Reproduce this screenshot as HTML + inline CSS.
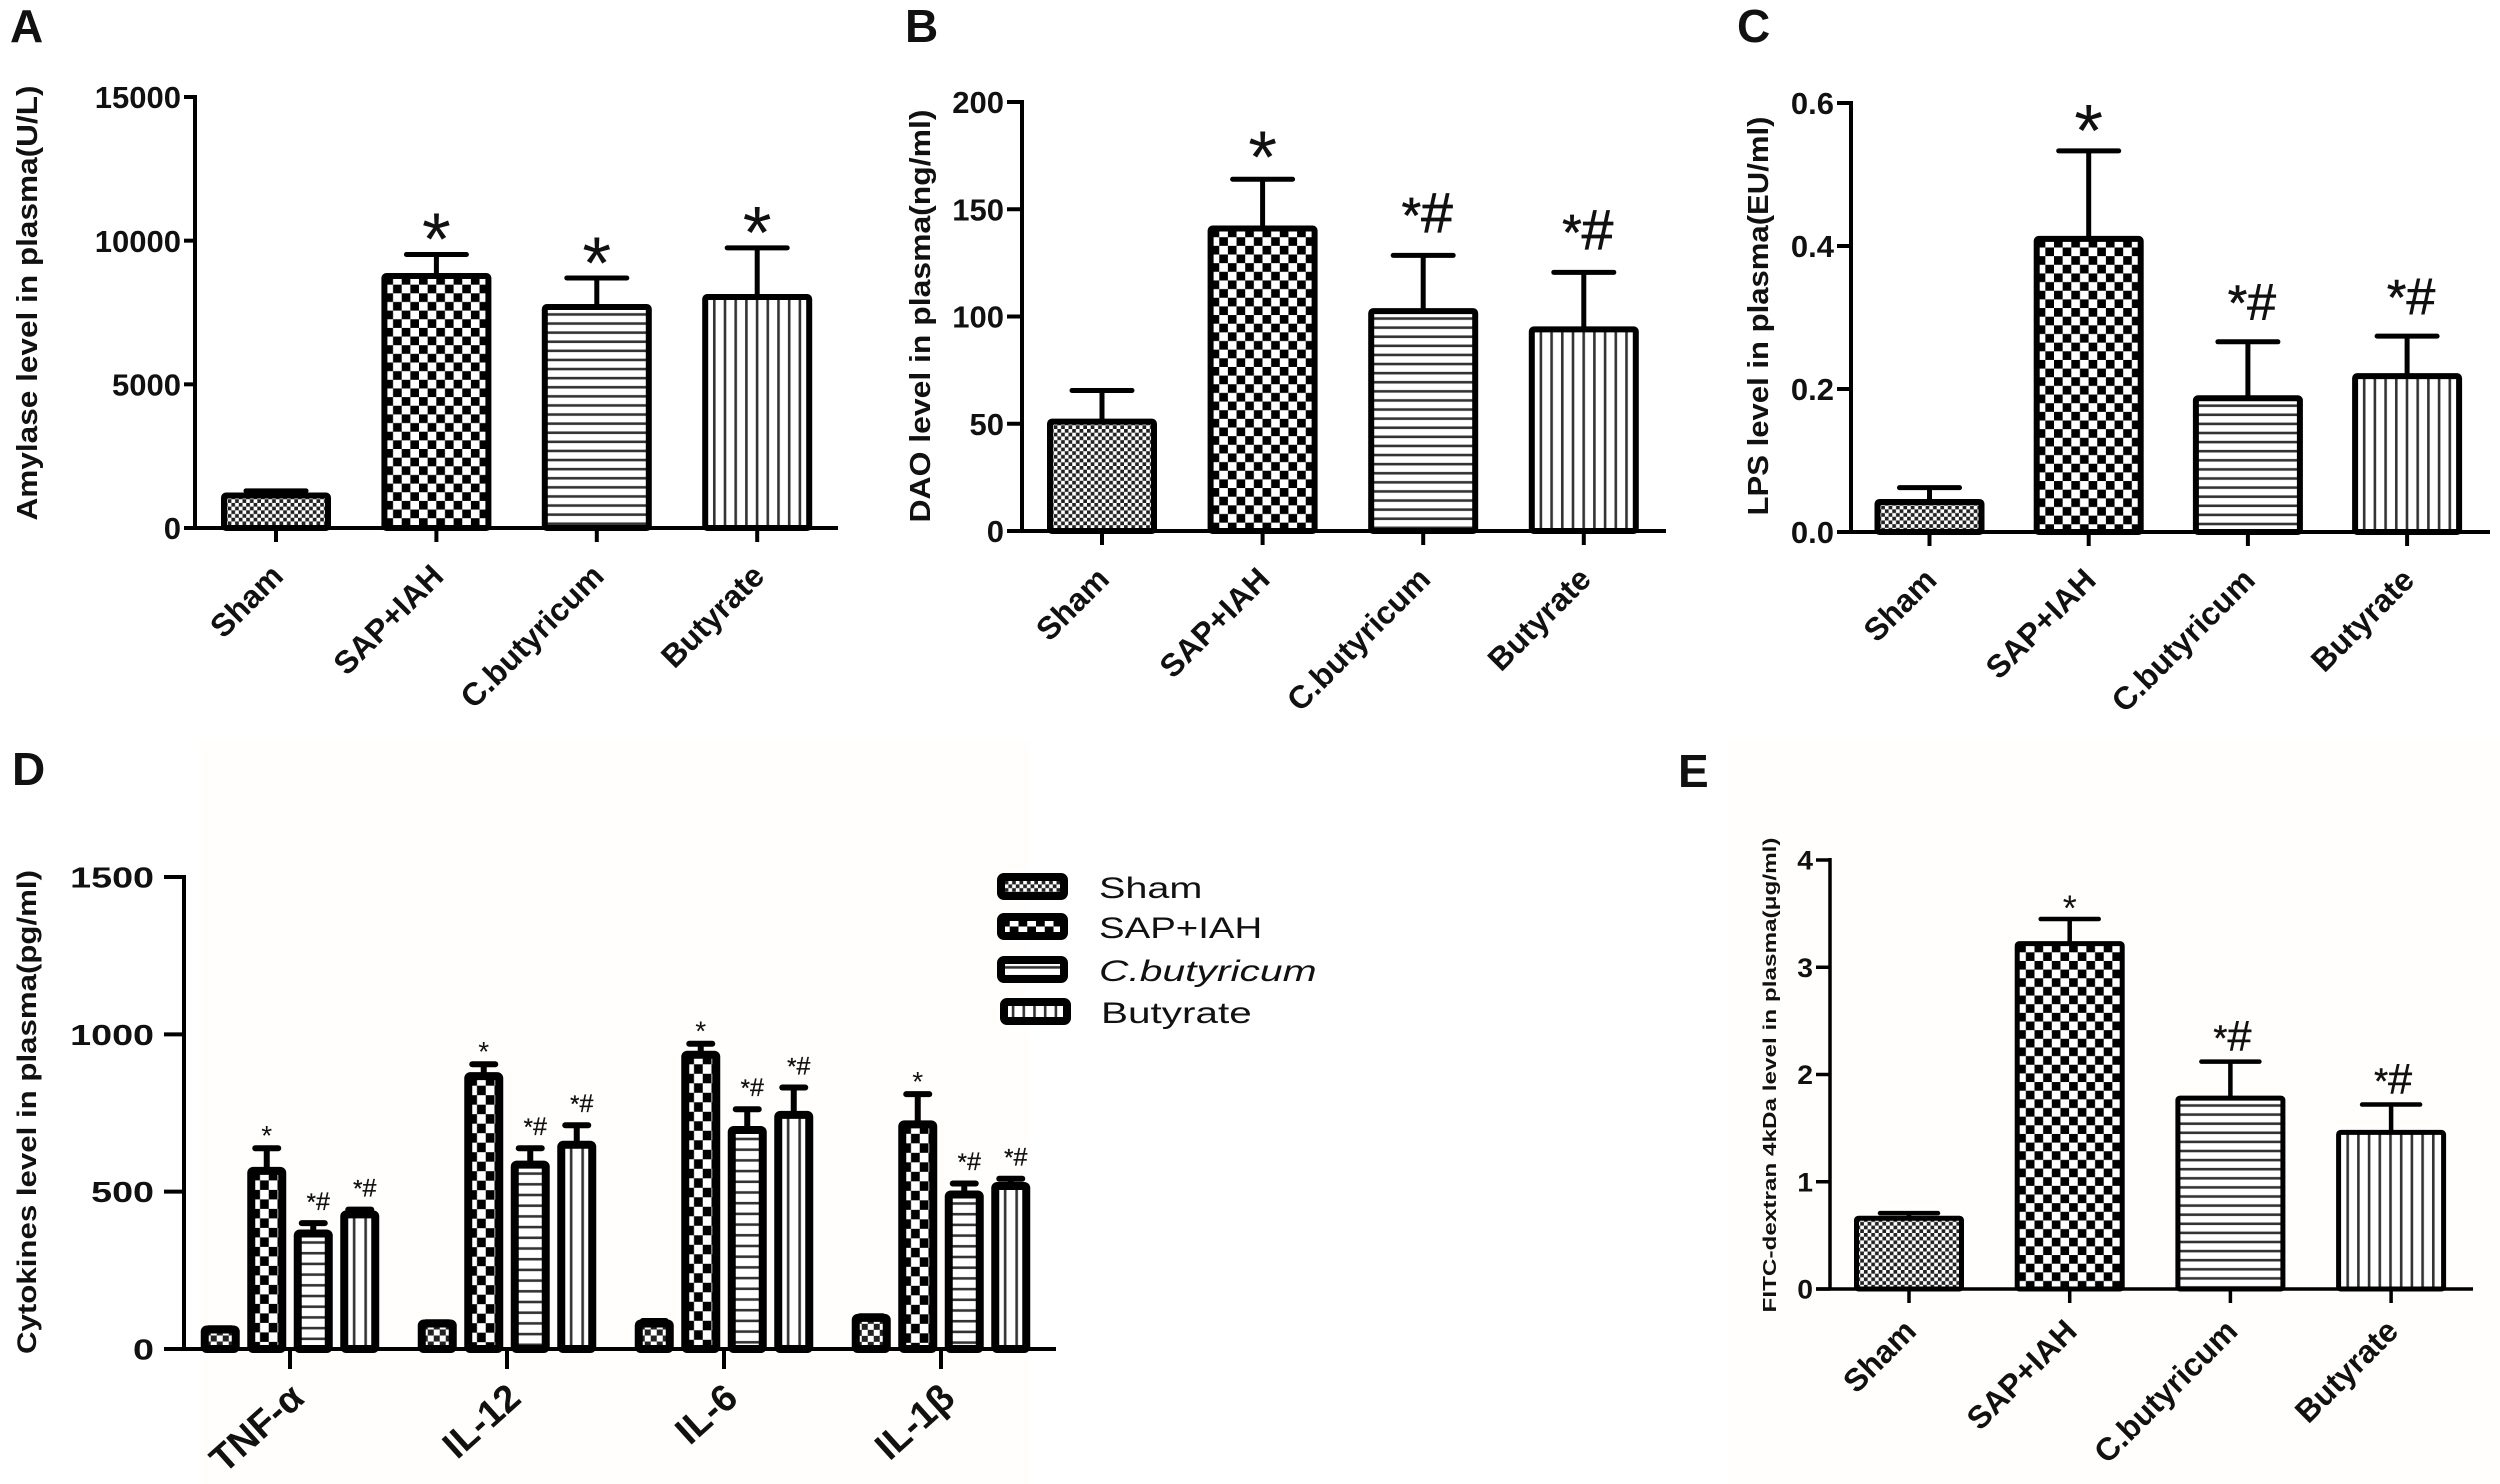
<!DOCTYPE html>
<html lang="en">
<head>
<meta charset="utf-8">
<title>Plasma markers bar charts</title>
<style>
html,body{margin:0;padding:0;background:#fff}
svg{display:block}
text{font-family:"Liberation Sans",sans-serif;fill:#111}
</style>
</head>
<body>
<svg id="figure" xmlns="http://www.w3.org/2000/svg" width="2500" height="1484" viewBox="0 0 2500 1484">
  <rect width="2500" height="1484" fill="#fff"/>
  <rect x="200" y="740" width="830" height="744" fill="#fffefc"/>
  <rect x="1727" y="740" width="773" height="744" fill="#fffefc"/>
  <defs id="defs"></defs>
  <g id="plots"></g>
</svg>
<script>
const categories = ['Sham', 'SAP+IAH', 'C.butyricum', 'Butyrate'];
const groupsD = ['TNF-α', 'IL-12', 'IL-6', 'IL-1β'];

const valuesA = [1130, 8770, 7690, 8040];
const errorsA = [160, 750, 1010, 1710];
const marksA = ['', '*', '*', '*'];
const tickLabelsA = ['0', '5000', '10000', '15000'];

const valuesB = [51, 141, 102.5, 94];
const errorsB = [14.5, 23, 26, 26.6];
const marksB = ['', '*', '*#', '*#'];
const tickLabelsB = ['0', '50', '100', '150', '200'];

const valuesC = [0.042, 0.41, 0.187, 0.218];
const errorsC = [0.02, 0.123, 0.079, 0.056];
const marksC = ['', '*', '*#', '*#'];
const tickLabelsC = ['0.0', '0.2', '0.4', '0.6'];

const valuesE = [0.66, 3.22, 1.78, 1.46];
const errorsE = [0.047, 0.23, 0.34, 0.26];
const marksE = ['', '*', '*#', '*#'];
const tickLabelsE = ['0', '1', '2', '3', '4'];

const shamD = [62, 81, 81, 99];
const shamErrD = [4, 4, 8, 5];
const sapD = [566, 867, 935, 714];
const sapErrD = [72, 38, 35, 96];
const cbD = [367, 586, 696, 491];
const cbErrD = [33, 52, 66, 35];
const butD = [428, 649, 744, 518];
const butErrD = [15, 62, 87, 23];
const marksD = ['', '*', '*#', '*#'];
const tickLabelsD = ['0', '500', '1000', '1500'];
const legendLabels = ['Sham', 'SAP+IAH', 'C.butyricum', 'Butyrate'];

const NS = 'http://www.w3.org/2000/svg';
const plots = document.getElementById('plots');
const defs = document.getElementById('defs');
let patternCount = 0;

function make(tag, attrs, parent) {
  const node = document.createElementNS(NS, tag);
  for (const key in attrs) node.setAttribute(key, attrs[key]);
  (parent || plots).appendChild(node);
  return node;
}

function makePattern(kind, x, y, dense) {
  const id = 'hatch' + (patternCount++);
  let w, h;
  if (kind === 0) { w = dense ? 12 : 7.4; h = dense ? 12 : 7.4; }
  else if (kind === 1) { w = dense ? 17.5 : 17.3; h = dense ? 19 : 17.3; }
  else if (kind === 2) { w = 10; h = dense ? 10.7 : 9.1; }
  else { w = dense ? 11.5 : 10.7; h = 10; }
  const p = make('pattern', {id: id, patternUnits: 'userSpaceOnUse', x: x, y: y, width: w, height: h}, defs);
  make('rect', {width: w, height: h, fill: '#fff'}, p);
  if (kind === 0 || kind === 1) {
    make('rect', {width: w / 2, height: h / 2, fill: kind === 0 ? '#222' : '#000'}, p);
    make('rect', {x: w / 2, y: h / 2, width: w / 2, height: h / 2, fill: kind === 0 ? '#222' : '#000'}, p);
  } else if (kind === 2) {
    make('rect', {y: h - 3, width: w, height: 2.6, fill: '#333'}, p);
  } else {
    make('rect', {x: w - 2.9, width: 2.6, height: h, fill: '#333'}, p);
  }
  return 'url(#' + id + ')';
}

function drawBar(cfg, g, cx, value, err, kind, dense) {
  const yOf = function (v) { return cfg.y0 - v / cfg.max * (cfg.y0 - cfg.top); };
  const top = yOf(value);
  const capY = yOf(value + err);
  const half = cfg.barW / 2 - cfg.stroke / 2;

  const stem = make('line', {x1: cx, x2: cx, y1: top, y2: capY, stroke: '#000', 'stroke-width': cfg.stem}, g);
  
  

  const cap = make('line', {x1: cx - cfg.capW / 2, x2: cx + cfg.capW / 2, y1: capY, y2: capY, stroke: '#000', 'stroke-width': cfg.stem, 'stroke-linecap': 'round'}, g);
  
  

  const fill = makePattern(kind, cx - half, top, dense);
  const bar = make('rect', {x: cx - half, y: top, width: half * 2, height: cfg.y0 - top, rx: 2, fill: fill, stroke: '#000', 'stroke-width': cfg.stroke}, g);
  
  
  return capY;
}

function drawMark(cfg, g, cx, capY, mark) {
  if (!mark) return;
  const t = make('text', {'text-anchor': 'middle'}, g);
  
  
  if (mark === '*') {
    t.setAttribute('x', cx);
    t.setAttribute('y', capY - cfg.starGap + 0.49 * cfg.starSize);
    t.setAttribute('font-size', cfg.starSize);
    t.textContent = '*';
  } else {
    t.setAttribute('x', cx + cfg.markShift);
    t.setAttribute('y', capY - cfg.hashGap + 0.35 * cfg.hashSize);
    t.setAttribute('font-size', cfg.hashSize);
    t.setAttribute('stroke', '#111');
    t.setAttribute('stroke-width', cfg.hashBold);
    const s = make('tspan', {'font-size': cfg.smallStar}, t);
    s.textContent = '*';
    const h = make('tspan', {}, t);
    h.textContent = '#';
  }
}

function drawAxes(cfg, g, labels, tickLabels) {
  const yOf = function (v) { return cfg.y0 - v / cfg.max * (cfg.y0 - cfg.top); };
  const yAxis = make('line', {x1: cfg.axisX, x2: cfg.axisX, y1: cfg.top - 2, y2: cfg.y0, stroke: '#000', 'stroke-width': cfg.axisW}, g);
  
  

  const xAxis = make('line', {x1: cfg.tickLeft, x2: cfg.xEnd, y1: cfg.y0, y2: cfg.y0, stroke: '#000', 'stroke-width': cfg.axisW}, g);
  
  

  tickLabels.forEach(function (label) {
    const y = yOf(parseFloat(label));
    const tick = make('line', {x1: cfg.tickLeft, x2: cfg.axisX, y1: y, y2: y, stroke: '#000', 'stroke-width': cfg.axisW}, g);
    
    
    const t = make('text', {'text-anchor': 'end', 'font-size': cfg.tickFont, 'font-weight': 'bold', transform: 'translate(' + (cfg.tickLeft - cfg.tickGap) + ',' + (y + cfg.tickFont * 0.36) + ') scale(' + cfg.tickSx + ',1)'}, g);
    
    
    t.textContent = label;
  });

  labels.forEach(function (label, i) {
    const x = cfg.firstTick + i * cfg.tickStep;
    const tick = make('line', {x1: x, x2: x, y1: cfg.y0, y2: cfg.y0 + cfg.tickDown, stroke: '#000', 'stroke-width': cfg.axisW}, g);
    
    
    const t = make('text', {'text-anchor': 'end', 'font-size': cfg.xFont, 'font-weight': 'bold', transform: 'translate(' + (x + cfg.xLabelDx) + ',' + (cfg.y0 + cfg.xLabelDy) + ') rotate(' + cfg.xAngle + ')'}, g);
    
    
    t.textContent = label;
  });

  const title = make('text', {'text-anchor': 'middle', 'font-size': cfg.titleFont, 'font-weight': 'bold', textLength: cfg.titleLen, lengthAdjust: 'spacingAndGlyphs', transform: 'translate(' + cfg.titleX + ',' + cfg.titleY + ') rotate(-90)'}, g);
  
  
  title.textContent = cfg.title;

  const letter = make('text', {x: cfg.letterX, y: cfg.letterY, 'font-size': 46, 'font-weight': 'bold'}, g);
  
  
  letter.textContent = cfg.letter;
}

function drawSimplePanel(cfg, values, errors, marks, tickLabels) {
  const g = make('g', {});
  
  
  values.forEach(function (v, i) {
    const cx = cfg.firstTick + i * cfg.tickStep;
    const capY = drawBar(cfg, g, cx, v, errors[i], i, false);
    drawMark(cfg, g, cx, capY, marks[i]);
  });
  drawAxes(cfg, g, categories, tickLabels);
}

drawSimplePanel({
  name: 'panel-a', letter: 'A', letterX: 10, letterY: 42, max: 15000,
  axisX: 195, tickLeft: 184, top: 97, y0: 528, xEnd: 838, axisW: 4, tickDown: 14,
  firstTick: 276, tickStep: 160.4, barW: 110, stroke: 6, stem: 5, capW: 60,
  starGap: 26, starSize: 74, hashGap: 38, hashSize: 55, smallStar: 50, markShift: 4, hashBold: 0.7,
  tickFont: 31, tickSx: 1, tickGap: 3, xFont: 32, xAngle: -45, xLabelDx: 9, xLabelDy: 50,
  title: 'Amylase level in plasma(U/L)', titleFont: 29, titleLen: 435, titleX: 37, titleY: 303
}, valuesA, errorsA, marksA, tickLabelsA);

drawSimplePanel({
  name: 'panel-b', letter: 'B', letterX: 905, letterY: 42, max: 200,
  axisX: 1022, tickLeft: 1007, top: 102, y0: 531, xEnd: 1666, axisW: 4, tickDown: 14,
  firstTick: 1102, tickStep: 160.6, barW: 110, stroke: 6, stem: 5, capW: 60,
  starGap: 33, starSize: 74, hashGap: 43, hashSize: 57, smallStar: 50, markShift: 4, hashBold: 0.7,
  tickFont: 31, tickSx: 1, tickGap: 3, xFont: 32, xAngle: -45, xLabelDx: 9, xLabelDy: 50,
  title: 'DAO level in plasma(ng/ml)', titleFont: 29, titleLen: 413, titleX: 930, titleY: 316
}, valuesB, errorsB, marksB, tickLabelsB);

drawSimplePanel({
  name: 'panel-c', letter: 'C', letterX: 1737, letterY: 42, max: 0.6,
  axisX: 1851, tickLeft: 1837, top: 103, y0: 532, xEnd: 2490, axisW: 4, tickDown: 14,
  firstTick: 1929.5, tickStep: 159.2, barW: 110, stroke: 6, stem: 5, capW: 60,
  starGap: 31, starSize: 74, hashGap: 40, hashSize: 52, smallStar: 50, markShift: 4, hashBold: 0.6,
  tickFont: 31, tickSx: 1, tickGap: 3, xFont: 32, xAngle: -45, xLabelDx: 9, xLabelDy: 50,
  title: 'LPS level in plasma(EU/ml)', titleFont: 29, titleLen: 399, titleX: 1768, titleY: 316
}, valuesC, errorsC, marksC, tickLabelsC);

drawSimplePanel({
  name: 'panel-e', letter: 'E', letterX: 1678, letterY: 787, max: 4,
  axisX: 1830, tickLeft: 1816, top: 860, y0: 1289, xEnd: 2473, axisW: 3.5, tickDown: 14,
  firstTick: 1909, tickStep: 160.7, barW: 110, stroke: 5, stem: 4.5, capW: 58,
  starGap: 16, starSize: 36, hashGap: 26, hashSize: 43, smallStar: 36, markShift: 2, hashBold: 0.5,
  tickFont: 27, tickSx: 1.05, tickGap: 3, xFont: 32, xAngle: -45, xLabelDx: 9, xLabelDy: 44,
  title: 'FITC-dextran 4kDa level in plasma(μg/ml)', titleFont: 18, titleLen: 475, titleX: 1776, titleY: 1075
}, valuesE, errorsE, marksE, tickLabelsE);

(function () {
  const cfg = {
    name: 'panel-d', letter: 'D', letterX: 12, letterY: 785, max: 1500,
    axisX: 184, tickLeft: 164, top: 877, y0: 1349, xEnd: 1056, axisW: 4, tickDown: 20,
    firstTick: 290, tickStep: 217, barW: 39, stroke: 8, stem: 6, capW: 23,
    starGap: 17, starSize: 28, hashGap: 22, hashSize: 25, smallStar: 24, markShift: 5, hashBold: 0.3,
    tickFont: 29, tickSx: 1.3, tickGap: 10, xFont: 38, xAngle: -42, xLabelDx: 16, xLabelDy: 52,
    title: 'Cytokines level in plasma(pg/ml)', titleFont: 27, titleLen: 484, titleX: 36, titleY: 1112
  };
  const seriesValues = [shamD, sapD, cbD, butD];
  const seriesErrors = [shamErrD, sapErrD, cbErrD, butErrD];
  const barStep = 46.5;
  const g = make('g', {});
  
  
  groupsD.forEach(function (group, gi) {
    const center = cfg.firstTick + gi * cfg.tickStep;
    seriesValues.forEach(function (series, si) {
      const cx = center + (si - 1.5) * barStep;
      const capY = drawBar(cfg, g, cx, series[gi], seriesErrors[si][gi], si, true);
      drawMark(cfg, g, cx, capY, marksD[si]);
    });
  });
  drawAxes(cfg, g, groupsD, tickLabelsD);

  const legend = make('g', {});
  
  
  const rowY = [873, 913, 956, 998];
  const widen = [1.32, 1.28, 1.36, 1.35];
  legendLabels.forEach(function (label, i) {
    const sx = i === 3 ? 1000 : 997;
    const sw = make('rect', {x: sx + 4, y: rowY[i] + 4, width: 63, height: 19, rx: 3, fill: makePattern(i, sx + 4, rowY[i] + 4, i === 1), stroke: '#000', 'stroke-width': 8}, legend);
    
    
    const attrs = {'font-size': 30, transform: 'translate(' + (i === 3 ? 1101 : 1099) + ',' + (rowY[i] + 25) + ') scale(' + widen[i] + ',1)'};
    if (i === 2) attrs['font-style'] = 'italic';
    const t = make('text', attrs, legend);
    
    
    t.textContent = label;
  });
})();
</script>
</body>
</html>
